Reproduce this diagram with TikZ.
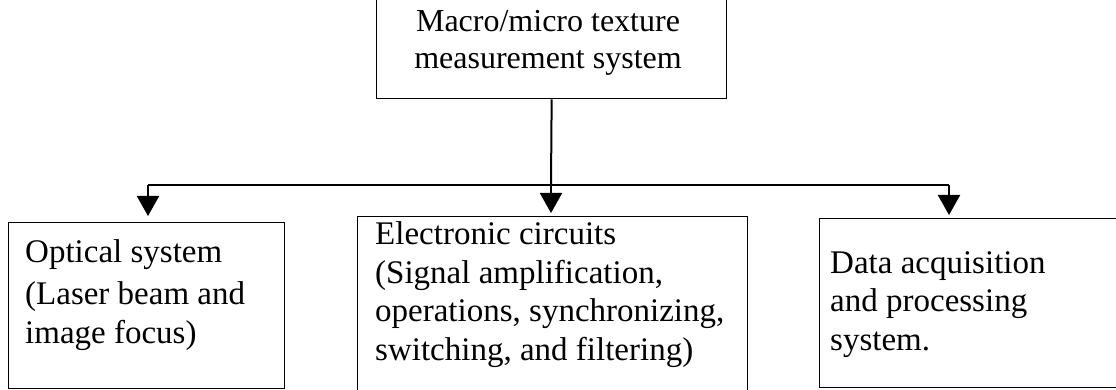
\documentclass[tikz,border=0pt]{standalone}
\usepackage{fontspec}
\setmainfont{Liberation Serif}
\usetikzlibrary{arrows.meta}
\tikzset{
  box/.style={draw, line width=1.3pt, inner sep=0pt, anchor=north west},
  lbl/.style={font=\fontsize{33}{38.5}\selectfont, anchor=base west, inner sep=0pt, align=left},
  conn/.style={line width=2pt},
  arr/.style={conn, -{Triangle[width=22pt,length=20pt]}}
}
\begin{document}
\begin{tikzpicture}[x=1pt,y=-1pt]
\useasboundingbox (0,0) rectangle (1116,390);
\clip (0,0) rectangle (1116,390);
% boxes
\node[box, minimum width=350pt, minimum height=120pt] (top) at (376,-22) {};
\node[box, minimum width=276pt, minimum height=166pt] (b1) at (8,222) {};
\node[box, minimum width=390pt, minimum height=210pt] (b2) at (357,216) {};
\node[box, minimum width=330pt, minimum height=169pt] (b3) at (819,218) {};
% texts (base anchor = baseline of last line)
\node[lbl, font=\fontsize{32}{37}\selectfont, anchor=base, align=center] (ttop) at (548,69) {Macro/micro texture\\measurement system};
\node[lbl] (t1) at (25,343) {Optical system\\[4pt](Laser beam and\\image focus)};
\node[lbl] (t2) at (375,360) {Electronic circuits\\(Signal amplification,\\operations, synchronizing,\\switching, and filtering)};
\node[lbl] (t3) at (830,350) {Data acquisition\\and processing\\system.};
% connectors
\coordinate (j) at (551,185);
\coordinate (jl) at (148,185);
\coordinate (jr) at (949,185);
\draw[conn] (top.south) -- (j);
\draw[conn] (jl) -- (jr);
\draw[arr, shorten >=6pt] (jl) -- (jl |- b1.north);
\draw[arr, shorten >=3pt] (j) -- (j |- b2.north);
\draw[arr, shorten >=3pt] (jr) -- (jr |- b3.north);
\end{tikzpicture}
\end{document}
